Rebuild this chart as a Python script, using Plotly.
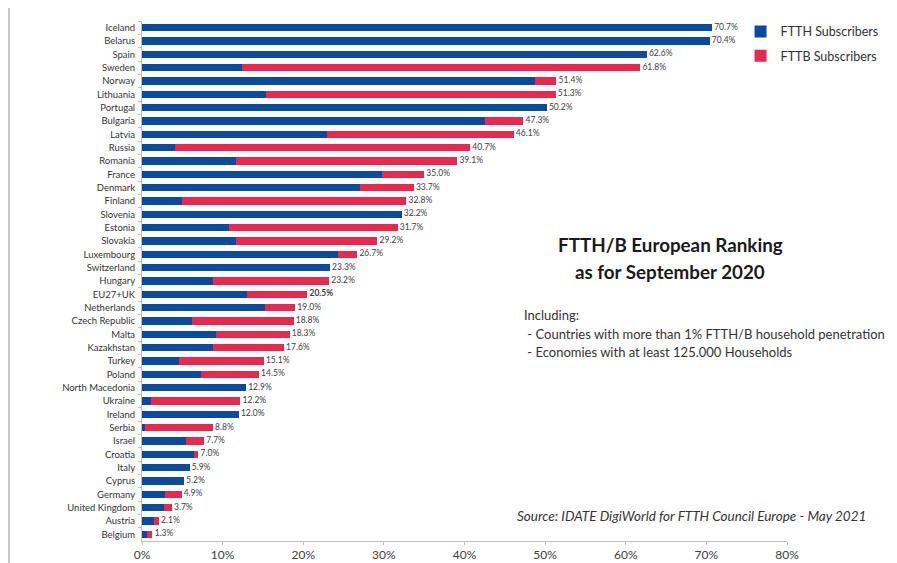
import plotly.graph_objects as go

countries = ["Iceland", "Belarus", "Spain", "Sweden", "Norway", "Lithuania", "Portugal",
             "Bulgaria", "Latvia", "Russia", "Romania", "France", "Denmark", "Finland",
             "Slovenia", "Estonia", "Slovakia", "Luxembourg", "Switzerland", "Hungary",
             "EU27+UK", "Netherlands", "Czech Republic", "Malta", "Kazakhstan", "Turkey",
             "Poland", "North Macedonia", "Ukraine", "Ireland", "Serbia", "Israel",
             "Croatia", "Italy", "Cyprus", "Germany", "United Kingdom", "Austria", "Belgium"]

totals = [70.7, 70.4, 62.6, 61.8, 51.4, 51.3, 50.2, 47.3, 46.1, 40.7, 39.1, 35.0, 33.7,
          32.8, 32.2, 31.7, 29.2, 26.7, 23.3, 23.2, 20.5, 19.0, 18.8, 18.3, 17.6, 15.1,
          14.5, 12.9, 12.2, 12.0, 8.8, 7.7, 7.0, 5.9, 5.2, 4.9, 3.7, 2.1, 1.3]

ftth = [70.7, 70.4, 62.6, 12.4, 48.8, 15.4, 50.2, 42.6, 23.0, 4.1, 11.7, 29.8, 27.0,
        4.9, 32.2, 10.8, 11.7, 24.3, 23.3, 8.8, 13.0, 15.2, 6.2, 9.2, 8.8, 4.6,
        7.3, 12.9, 1.1, 12.0, 0.4, 5.4, 6.4, 5.9, 5.2, 2.9, 2.7, 1.5, 0.6]

fttb = [0.0, 0.0, 0.0, 49.4, 2.6, 35.9, 0.0, 4.7, 23.1, 36.6, 27.4, 5.2, 6.7,
        27.9, 0.0, 20.9, 17.5, 2.4, 0.0, 14.4, 7.5, 3.8, 12.6, 9.1, 8.8, 10.5,
        7.2, 0.0, 11.1, 0.0, 8.4, 2.3, 0.6, 0.0, 0.0, 2.0, 1.0, 0.6, 0.7]

x_ticks = [0, 10, 20, 30, 40, 50, 60, 70, 80]
x_tick_labels = ["0%", "10%", "20%", "30%", "40%", "50%", "60%", "70%", "80%"]

BLUE = "#0c4a9e"
RED = "#e8294f"
FONT = "Lato"

labels = [("&nbsp;<b>%.1f%%</b>" % v) if c == "EU27+UK" else ("&nbsp;%.1f%%" % v)
          for c, v in zip(countries, totals)]

fig = go.Figure()
fig.add_trace(go.Bar(y=countries, x=ftth, orientation="h", name="FTTH Subscribers",
                     marker=dict(color=BLUE, line=dict(width=0)), legendgroup="a"))
fig.add_trace(go.Bar(y=countries, x=fttb, orientation="h", name="FTTB Subscribers",
                     marker=dict(color=RED, line=dict(width=0)), legendgroup="b"))
fig.add_trace(go.Scatter(y=countries, x=totals, mode="text", text=labels,
                         textposition="middle right", showlegend=False,
                         textfont=dict(family=FONT, size=8.5, color="#404040"),
                         cliponaxis=False))

n = len(countries)
fig.update_layout(
    width=897, height=563,
    margin=dict(l=134, r=118, t=13, b=30, autoexpand=False),
    barmode="stack", bargap=0.46,
    plot_bgcolor="white", paper_bgcolor="white",
    font=dict(family=FONT, color="#333333"),
    showlegend=True,
    legend=dict(x=0.928, xanchor="left", y=1.008, yanchor="top",
                font=dict(family=FONT, size=12.5, color="#333333"),
                tracegroupgap=5, bgcolor="rgba(0,0,0,0)", itemwidth=30),
    xaxis=dict(range=[0, 80], tickvals=x_ticks, ticktext=x_tick_labels, automargin=False,
               showgrid=False, zeroline=False, showline=True, linecolor="#bfbfbf",
               linewidth=1, ticks="outside", ticklen=3, tickcolor="#bfbfbf",
               tickfont=dict(family=FONT, size=12, color="#404040")),
    yaxis=dict(range=[n - 0.5, -0.5], automargin=False, showgrid=False, showline=True,
               linecolor="#bfbfbf", linewidth=1, ticks="outside", ticklen=3,
               tickcolor="#bfbfbf", tickson="boundaries", ticklabelstandoff=4,
               tickfont=dict(family=FONT, size=9.5, color="#333333")),
)

PL, PR, PT, PB = 142, 787, 21, 541

def px(xp):
    return (xp - PL) / float(PR - PL)

def py(yp):
    return (PB - yp) / float(PB - PT)

fig.add_annotation(x=px(670), y=py(244), xref="paper", yref="paper", showarrow=False,
                   xanchor="center", yanchor="middle",
                   text="<b>FTTH/B European Ranking</b>",
                   font=dict(family=FONT, size=18.8, color="#1a1a1a"))
fig.add_annotation(x=px(670), y=py(271), xref="paper", yref="paper", showarrow=False,
                   xanchor="center", yanchor="middle",
                   text="<b>as for September 2020</b>",
                   font=dict(family=FONT, size=18.8, color="#1a1a1a"))
notes = ["Including:",
         " - Countries with more than 1% FTTH/B household penetration",
         " - Economies with at least 125.000 Households"]
for i, t in enumerate(notes):
    fig.add_annotation(x=px(522), y=py(315 + 18.5 * i), xref="paper", yref="paper",
                       showarrow=False, xanchor="left", yanchor="middle", text=t,
                       font=dict(family=FONT, size=13, color="#333333"))
fig.add_annotation(x=px(868), y=py(516), xref="paper", yref="paper", showarrow=False,
                   xanchor="right", yanchor="middle",
                   text="<i>Source: IDATE DigiWorld for FTTH Council Europe - May 2021</i>",
                   font=dict(family=FONT, size=13.5, color="#333333"))

fig.add_shape(type="line", xref="paper", yref="paper", x0=px(9), x1=px(9),
              y0=py(571), y1=py(8), line=dict(color="#c8c8c8", width=2))

fig.write_html("out.html")
